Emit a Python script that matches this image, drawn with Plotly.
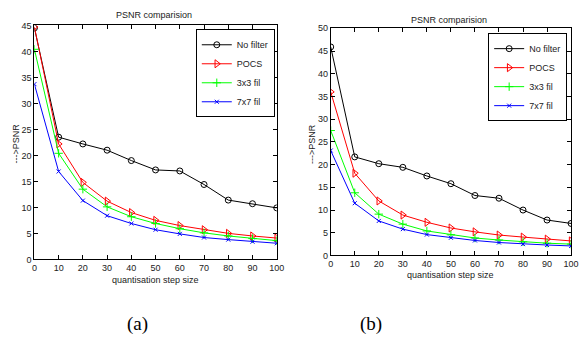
import plotly.graph_objects as go

steps = [0, 10, 20, 30, 40, 50, 60, 70, 80, 90, 100]
series_names = ["No filter", "POCS", "3x3 fil", "7x7 fil"]

a_nofilter = [44.5, 23.5, 22.2, 21.0, 19.0, 17.2, 17.0, 14.4, 11.4, 10.7, 9.9]
a_pocs = [44.7, 22.2, 14.8, 11.2, 9.0, 7.5, 6.5, 5.7, 5.0, 4.5, 4.1]
a_3x3 = [40.4, 20.4, 13.5, 10.1, 8.2, 6.9, 5.9, 5.1, 4.5, 4.0, 3.6]
a_7x7 = [33.7, 16.9, 11.3, 8.4, 6.9, 5.7, 4.9, 4.2, 3.8, 3.4, 3.1]

b_nofilter = [45.9, 21.7, 20.2, 19.4, 17.5, 15.8, 13.2, 12.6, 10.0, 7.8, 7.05]
b_pocs = [36.0, 18.1, 12.0, 8.9, 7.3, 6.05, 5.2, 4.5, 4.05, 3.6, 3.2]
b_3x3 = [27.5, 13.8, 9.1, 6.9, 5.4, 4.55, 3.85, 3.4, 3.0, 2.7, 2.5]
b_7x7 = [23.1, 11.5, 7.6, 5.8, 4.6, 3.9, 3.3, 2.85, 2.5, 2.3, 2.1]

colors = ["#000000", "#ff0000", "#00ff00", "#0000ff"]
symbols = ["circle-open", "triangle-right-open", "cross-thin-open", "x-thin-open"]
sizes = [6, 7, 6, 4]

W, H = 584, 343
def px(x): return x / W
def py(y): return 1 - y / H

FONT = "Liberation Sans, Arial, sans-serif"

fig = go.Figure()

for i, (name, ys) in enumerate(zip(series_names, [a_nofilter, a_pocs, a_3x3, a_7x7])):
    fig.add_trace(go.Scatter(x=steps, y=ys, name=name, mode="lines+markers",
                             line=dict(color=colors[i], width=1),
                             marker=dict(symbol=symbols[i], size=sizes[i], color=colors[i],
                                         line=dict(width=1, color=colors[i])),
                             xaxis="x", yaxis="y", legend="legend"))
for i, (name, ys) in enumerate(zip(series_names, [b_nofilter, b_pocs, b_3x3, b_7x7])):
    fig.add_trace(go.Scatter(x=steps, y=ys, name=name, mode="lines+markers",
                             line=dict(color=colors[i], width=1),
                             marker=dict(symbol=symbols[i], size=sizes[i], color=colors[i],
                                         line=dict(width=1, color=colors[i])),
                             xaxis="x2", yaxis="y2", legend="legend2"))

axis_common = dict(showline=True, linecolor="black", linewidth=1, mirror="ticks",
                   ticks="inside", ticklen=4, tickcolor="black", showgrid=False,
                   zeroline=False, tickfont=dict(family=FONT, size=9, color="#222"))

leg_common = dict(xanchor="right", yanchor="top",
                  bgcolor="white", bordercolor="black", borderwidth=1,
                  font=dict(family=FONT, size=9, color="#222"),
                  tracegroupgap=0, itemwidth=30)

fig.update_layout(
    width=W, height=H,
    margin=dict(l=0, r=0, t=0, b=0),
    paper_bgcolor="white", plot_bgcolor="white",
    showlegend=True,
    xaxis=dict(domain=[px(32), px(279)], range=[0, 100], tickvals=steps, anchor="y", **axis_common),
    yaxis=dict(domain=[py(262), py(21)], range=[0, 45], dtick=5, anchor="x", **axis_common),
    xaxis2=dict(domain=[px(334), px(579)], range=[0, 100], tickvals=steps, anchor="y2", **axis_common),
    yaxis2=dict(domain=[py(258), py(24)], range=[0, 50], dtick=5, anchor="x2", **axis_common),
    legend=dict(x=px(277), y=py(25), **leg_common),
    legend2=dict(x=px(575), y=py(29), **leg_common),
)

ann_font = dict(family=FONT, size=9, color="#222")
anns = [
    dict(text="PSNR comparision", x=px(154), y=py(10), font=ann_font),
    dict(text="PSNR comparision", x=px(455), y=py(15), font=ann_font),
    dict(text="quantisation step size", x=px(155), y=py(283), font=ann_font),
    dict(text="quantisation step size", x=px(456), y=py(278), font=ann_font),
    dict(text="--->PSNR", x=px(13), y=py(143), font=ann_font, textangle=-90),
    dict(text="--->PSNR", x=px(315), y=py(143), font=ann_font, textangle=-90),
    dict(text="(a)", x=px(137), y=py(329), font=dict(family="Liberation Serif", size=19, color="black")),
    dict(text="(b)", x=px(375), y=py(329), font=dict(family="Liberation Serif", size=19, color="black")),
]
for a in anns:
    fig.add_annotation(xref="paper", yref="paper", showarrow=False,
                       xanchor="center", yanchor="middle", **a)

fig.write_html("out.html", config={"displayModeBar": False},
               post_script="document.body.style.margin='0px';")
